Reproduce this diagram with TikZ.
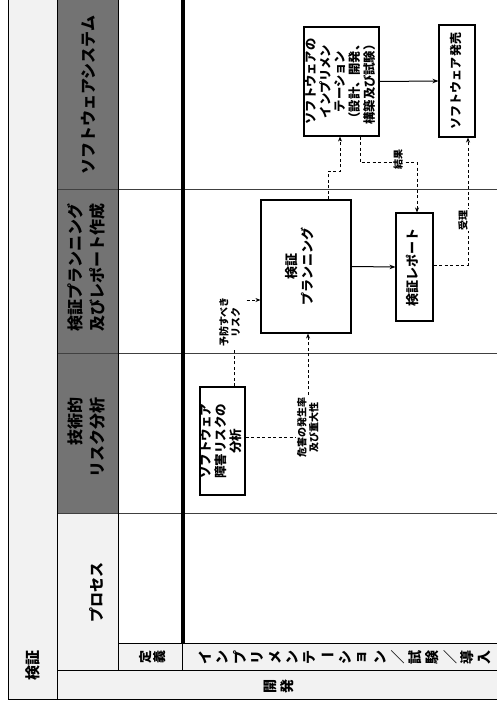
\documentclass[tikz,border=0pt]{standalone}
\usepackage{fontspec}
\setmainfont{Noto Sans CJK JP}
\usetikzlibrary{arrows.meta,calc}
\newcommand\rt[2][c]{\rotatebox{90}{\begin{tabular}{@{}#1@{}}#2\end{tabular}}}
\tikzset{
  stip/.style={fill=black!5, draw=none},
  darkcell/.style={fill=black!55, draw=none},
  grid/.style={draw=black, line width=0.8pt},
  thinsep/.style={draw=black!75, line width=0.6pt},
  hdr/.style={inner sep=0pt, font=\bfseries\fontsize{16}{22}\selectfont},
  side/.style={inner sep=0pt, font=\bfseries\fontsize{15}{18}\selectfont},
  vch/.style={inner sep=0pt, font=\bfseries\fontsize{14}{16}\selectfont},
  box/.style={draw=black, line width=1.1pt, fill=white, inner sep=0pt},
  lbl/.style={fill=white, inner sep=1pt, font=\bfseries\fontsize{10}{11.5}\selectfont},
  dconn/.style={draw=black, line width=0.8pt, dash pattern=on 3pt off 2.5pt, -{Stealth[length=5pt,width=4pt]}},
  sconn/.style={draw=black, line width=1pt, -{Stealth[length=6pt,width=4.5pt]}}
}
\begin{document}
\begin{tikzpicture}[x=1pt,y=-1pt]
\useasboundingbox (0,0) rectangle (497,706);
% backgrounds
\fill[stip] (8,0) rectangle (57,699);
\fill[stip] (57,513) rectangle (118,670);
\fill[stip] (118,643) rectangle (497,670);
\fill[stip] (57,670) rectangle (497,699);
\fill[darkcell] (57,0) rectangle (118,513);
% swimlane separators
\draw[thinsep] (57,189) -- (497,189);
\draw[thinsep] (57,353) -- (497,353);
\draw[thinsep] (57,513) -- (497,513);
% frame
\draw[grid] (8,0) -- (8,699) -- (497,699);
\draw[grid] (57,0) -- (57,699);
\draw[grid] (118,0) -- (118,670);
\draw[grid] (118,643) -- (497,643);
\draw[grid] (57,670) -- (497,670);
\draw[grid] (182,643) -- (182,670);
\draw[draw=black, line width=3.5pt] (183,0) -- (183,643);
% header texts
\node[hdr] (hsys) at (88,95) {\rotatebox{90}{ソフトウェアシステム}};
\node[hdr] (hplan) at (88.5,267) {\rt{検証プランニング\\及びレポート作成}};
\node[hdr] (hrisk) at (88.5,437) {\rt[r]{技術的\\リスク分析}};
\node[side] (hproc) at (97,592) {\rotatebox{90}{プロセス}};
\node[side] (hkensho) at (33,665) {\rotatebox{90}{検証}};
% vertical-text cells (characters rotated one by one)
\node[vch, rotate=90, font=\bfseries\fontsize{13}{15}\selectfont] (d1) at (146,657) {定};
\node[vch, rotate=90, font=\bfseries\fontsize{13}{15}\selectfont] (d2) at (160,657) {義};
\node[vch, rotate=90] (k1) at (270,686) {開};
\node[vch, rotate=90] (k2) at (287,686) {発};
\foreach \c/\r [count=\i from 0] in {イ/90,ン/90,プ/90,リ/90,メ/90,ン/90,テ/90,ー/0,シ/90,ョ/90,ン/90,＼/0,試/90,験/90,＼/0,導/90,入/90}
  \node[vch, rotate=\r] (c\i) at ({205+17.5*\i},657) {\c};
% process boxes
\node[box, minimum width=45pt, minimum height=108pt, font=\bfseries\fontsize{12.5}{14}\selectfont] (risk) at (222.5,441)
  {\rt{ソフトウェア\\障害リスクの\\分析}};
\node[box, minimum width=90pt, minimum height=133pt, font=\bfseries\fontsize{13}{15.5}\selectfont] (plan) at (306,266.5)
  {\kern-5pt\rt{検証\\プランニング}\kern5pt};
\node[box, minimum width=37pt, minimum height=108pt, font=\bfseries\fontsize{13}{15}\selectfont] (report) at (414.5,267)
  {\rt{検証レポート}};
\node[box, minimum width=75pt, minimum height=109pt, font=\bfseries\fontsize{12.3}{14.2}\selectfont] (impl) at (341.5,81.5)
  {\rt{ソフトウェアの\\インプリメン\\テーション\\（設計、開発、\\構築及び試験）}};
\node[box, minimum width=36pt, minimum height=112pt, font=\bfseries\fontsize{12}{14}\selectfont] (release) at (457,81)
  {\rt{ソフトウェア発売}};
% connectors
\draw[dconn] ($(risk.north)+(11.5,0)$) |- ($(plan.west)+(0,33.5)$);
\draw[dconn] ($(risk.east)+(0,-4)$) -| ($(plan.south)+(2,0)$);
\draw[sconn] (plan.east) -- (report.west);
\draw[dconn] ($(plan.north)+(22,0)$) -- ++(0,-28) -| ($(impl.south)+(-1.5,0)$);
\draw[dconn] ($(impl.south)+(18.5,0)$) -- ++(0,26) -| ($(report.north)+(2.5,0)$);
\draw[sconn] (impl.east) -- (release.west);
\draw[dconn] ($(report.east)+(0,-2)$) -| ($(release.south)+(11,0)$);
% connector labels
\node[lbl] (l1) at (231,322) {\rt{予防すべき\\リスク}};
\node[lbl] (l2) at (309,427) {\rt{危害の発生率\\及び重大性}};
\node[lbl] (l3) at (398,159) {\rotatebox{90}{結果}};
\node[lbl] (l4) at (463,220) {\rotatebox{90}{受理}};
\end{tikzpicture}
\end{document}
